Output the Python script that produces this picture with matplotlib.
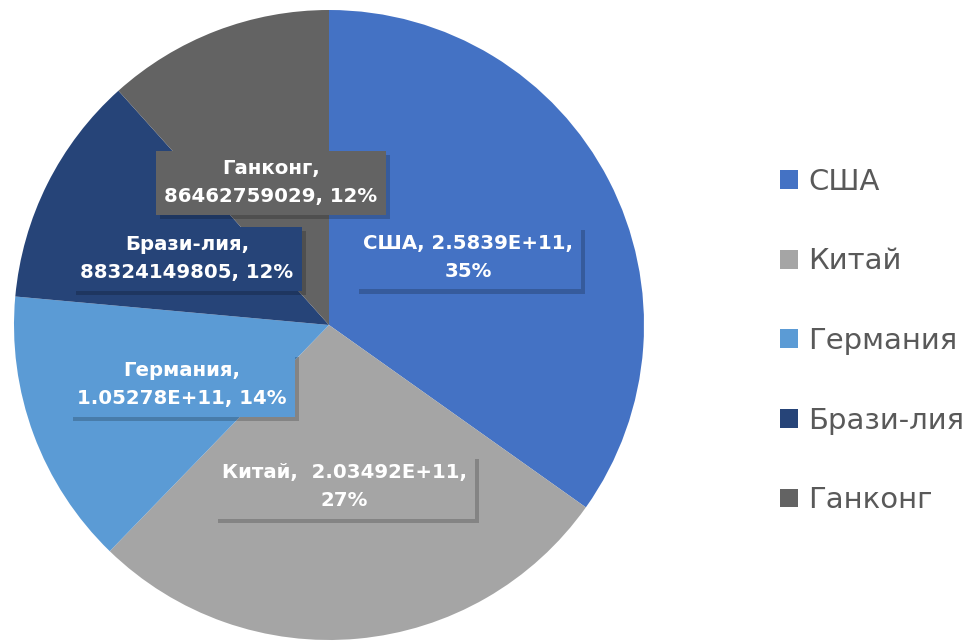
import matplotlib.pyplot as plt
import matplotlib.patheffects as pe

# данные
countries = ["США", "Китай", "Германия", "Брази-лия", "Ганконг"]
values = [2.5839e11, 2.03492e11, 1.05278e11, 88324149805, 86462759029]
value_text = ["2.5839E+11", " 2.03492E+11", "1.05278E+11", "88324149805", "86462759029"]
colors = ["#4472C4", "#A5A5A5", "#5B9BD5", "#264478", "#636363"]

fig = plt.figure(figsize=(9.78, 6.41), dpi=100)
ax = fig.add_axes([14 / 978, 1 / 641, 630 / 978, 630 / 641])

wedges, _ = ax.pie(values, colors=colors, startangle=90, counterclock=False,
                   radius=1.0)
ax.set_xlim(-1, 1)
ax.set_ylim(-1, 1)
ax.set_aspect("equal")

total = sum(values)
pcts = [round(v / total * 100) for v in values]

# позиции подписей (в долях радиуса)
label_pos = [(0.441, 0.214), (0.048, -0.514), (-0.467, -0.190),
             (-0.451, 0.210), (-0.184, 0.451)]

for i in range(len(countries)):
    if i in (0, 1):
        txt = f"{countries[i]}, {value_text[i]},\n{pcts[i]}%"
    else:
        txt = f"{countries[i]},\n{value_text[i]}, {pcts[i]}%"
    t = ax.text(label_pos[i][0], label_pos[i][1], txt, ha="center", va="center",
                fontsize=14.2, fontweight="bold", color="white",
                linespacing=1.6,
                bbox=dict(boxstyle="square,pad=0.42", facecolor=colors[i],
                          edgecolor="none"))
    t.get_bbox_patch().set_path_effects([
        pe.SimplePatchShadow(offset=(3, -3), shadow_rgbFace="black", alpha=0.2),
        pe.Normal()])

leg = fig.legend(wedges, countries, loc="center left",
                 bbox_to_anchor=(780 / 978, 1 - 341 / 641),
                 bbox_transform=fig.transFigure,
                 frameon=False, fontsize=21, labelcolor="#595959",
                 borderpad=0, borderaxespad=0,
                 handlelength=0.62, handleheight=0.62, handletextpad=0.35,
                 labelspacing=1.77)
for h in leg.legend_handles:
    h.set_edgecolor("none")

fig.savefig("out.png", dpi=100)
